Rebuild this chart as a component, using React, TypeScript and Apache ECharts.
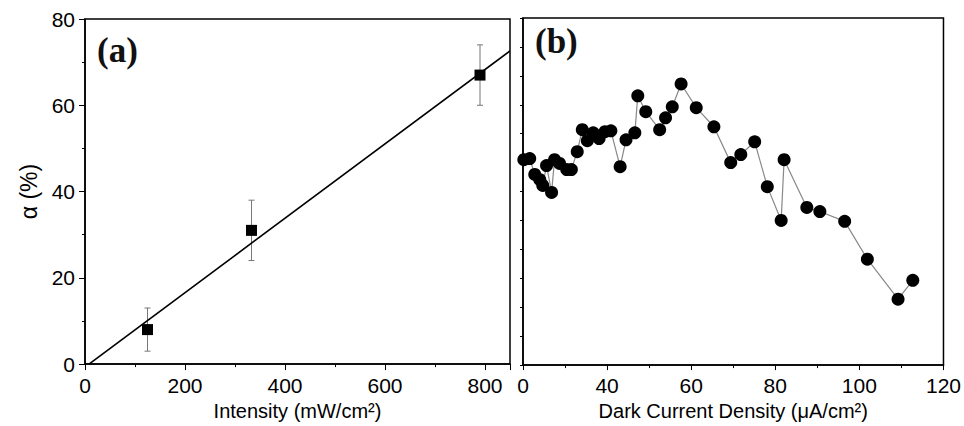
import React, { useEffect, useRef } from "react";
import * as echarts from "echarts";

// Panel (a): alpha vs intensity
const intensity = [125, 333, 790];
const alphaPct = [8, 31, 67];
const alphaErrLow = [3, 24, 60];
const alphaErrHigh = [13, 38, 74];
const fitX = [8, 850];
const fitY = [0, 72.6];

// Panel (b): dark current density (axis units, first tick labelled "0")
const darkX = [
  20.2, 21.6, 22.8, 24.0, 24.7, 25.6, 26.8, 27.5, 28.7, 30.4, 31.5, 32.9, 34.1, 35.3,
  36.7, 38.1, 39.5, 40.9, 43.1, 44.5, 46.6, 47.3, 49.2, 52.5, 53.9, 55.5, 57.6, 61.2,
  65.4, 69.4, 71.8, 75.1, 78.1, 81.4, 82.1, 87.5, 90.6, 96.5, 101.9, 109.2, 112.7,
];
const darkY = [
  71.0, 71.4, 65.9, 64.1, 62.1, 69.0, 59.7, 71.0, 69.7, 67.6, 67.6, 73.8, 81.4, 77.6,
  80.3, 78.3, 80.7, 81.0, 68.6, 77.9, 80.3, 93.1, 87.6, 81.4, 85.5, 89.3, 97.2, 89.0,
  82.4, 70.0, 72.8, 77.2, 61.7, 50.0, 71.0, 54.5, 53.1, 49.7, 36.6, 22.8, 29.3,
];
const xTickLabelsB = ["0", "40", "60", "80", "100", "120"];

const FONT = "Arial, 'Liberation Sans', sans-serif";

export default function App() {
  const ref = useRef<HTMLDivElement>(null);
  useEffect(() => {
    if (!ref.current) return;
    const chart = echarts.init(ref.current, undefined, { renderer: "svg" });
    const pointsA = intensity.map((x, i) => [x, alphaPct[i]]);
    const errA = intensity.map((x, i) => [x, alphaErrLow[i], alphaErrHigh[i]]);
    const fit = fitX.map((x, i) => [x, fitY[i]]);
    const pointsB = darkX.map((x, i) => [x, darkY[i]]);

    const axisLine = { show: true, lineStyle: { color: "#000", width: 1.5 } };
    const labelStyle = { color: "#000", fontSize: 21, fontFamily: FONT };

    chart.setOption({
      animation: false,
      backgroundColor: "#fff",
      grid: [
        { left: 85, top: 19, width: 425, height: 348, show: true, borderColor: "#000", borderWidth: 1.5, backgroundColor: "transparent" },
        { left: 523, top: 18, width: 425, height: 348, show: true, borderColor: "#000", borderWidth: 1.5, backgroundColor: "transparent" },
      ],
      xAxis: [
        {
          type: "value", gridIndex: 0, min: 0, max: 850, interval: 200,
          axisLine, splitLine: { show: false },
          axisTick: { show: true, length: 6, lineStyle: { color: "#000" } },
          minorTick: { show: true, splitNumber: 2, length: 3, lineStyle: { color: "#000" } },
          axisLabel: { ...labelStyle, margin: 11, formatter: (v: number) => (v % 200 === 0 ? String(v) : "") },
          name: "Intensity (mW/cm²)", nameLocation: "middle", nameGap: 33,
          nameTextStyle: { color: "#000", fontSize: 20, fontFamily: FONT },
        },
        {
          type: "value", gridIndex: 1, min: 20, max: 120, interval: 20,
          axisLine, splitLine: { show: false },
          axisTick: { show: true, length: 5, lineStyle: { color: "#000" } },
          minorTick: { show: true, splitNumber: 2, length: 3, lineStyle: { color: "#000" } },
          axisLabel: { ...labelStyle, margin: 10, formatter: (v: number) => xTickLabelsB[Math.round((v - 20) / 20)] ?? "" },
          name: "Dark Current Density (μA/cm²)", nameLocation: "middle", nameGap: 31,
          nameTextStyle: { color: "#000", fontSize: 20, fontFamily: FONT },
        },
      ],
      yAxis: [
        {
          type: "value", gridIndex: 0, min: 0, max: 80, interval: 20,
          axisLine, splitLine: { show: false },
          axisTick: { show: true, length: 6, lineStyle: { color: "#000" } },
          minorTick: { show: true, splitNumber: 2, length: 3, lineStyle: { color: "#000" } },
          axisLabel: { ...labelStyle, margin: 10 },
          name: "α (%)", nameLocation: "middle", nameGap: 45,
          nameTextStyle: { color: "#000", fontSize: 23, fontFamily: FONT },
        },
        {
          type: "value", gridIndex: 1, min: 0, max: 120, interval: 10,
          axisLine, splitLine: { show: false },
          axisTick: { show: true, length: 3, lineStyle: { color: "#000" } },
          axisLabel: { show: false },
        },
      ],
      series: [
        {
          type: "line", xAxisIndex: 0, yAxisIndex: 0, data: fit, symbol: "none",
          lineStyle: { color: "#000", width: 1.6 }, silent: true,
        },
        {
          type: "custom", xAxisIndex: 0, yAxisIndex: 0, data: errA,
          renderItem: (params: any, api: any) => {
            const x = api.value(0);
            const lo = api.coord([x, api.value(1)]);
            const hi = api.coord([x, api.value(2)]);
            const cap = 3;
            const style = { stroke: "#777", lineWidth: 1 };
            return {
              type: "group",
              children: [
                { type: "line", shape: { x1: lo[0], y1: lo[1], x2: hi[0], y2: hi[1] }, style },
                { type: "line", shape: { x1: lo[0] - cap, y1: lo[1], x2: lo[0] + cap, y2: lo[1] }, style },
                { type: "line", shape: { x1: hi[0] - cap, y1: hi[1], x2: hi[0] + cap, y2: hi[1] }, style },
              ],
            };
          },
        },
        {
          type: "scatter", xAxisIndex: 0, yAxisIndex: 0, data: pointsA, symbol: "rect",
          symbolSize: 11, itemStyle: { color: "#000", opacity: 1 }, z: 5,
        },
        {
          type: "line", xAxisIndex: 1, yAxisIndex: 1, data: pointsB, symbol: "circle",
          symbolSize: 13, showAllSymbol: true, clip: false,
          itemStyle: { color: "#000", borderWidth: 0, opacity: 1 },
          lineStyle: { color: "#888", width: 1.2 },
        },
      ],
      graphic: [
        { type: "text", left: 97, top: 33, style: { text: "(a)", font: "bold 35px 'Times New Roman', 'Liberation Serif', serif", fill: "#111" } },
        { type: "text", left: 535, top: 24, style: { text: "(b)", font: "bold 35px 'Times New Roman', 'Liberation Serif', serif", fill: "#111" } },
      ],
    });
    return () => chart.dispose();
  }, []);
  return <div ref={ref} style={{ position: "fixed", left: 0, top: 0, width: 964, height: 426 }} />;
}
